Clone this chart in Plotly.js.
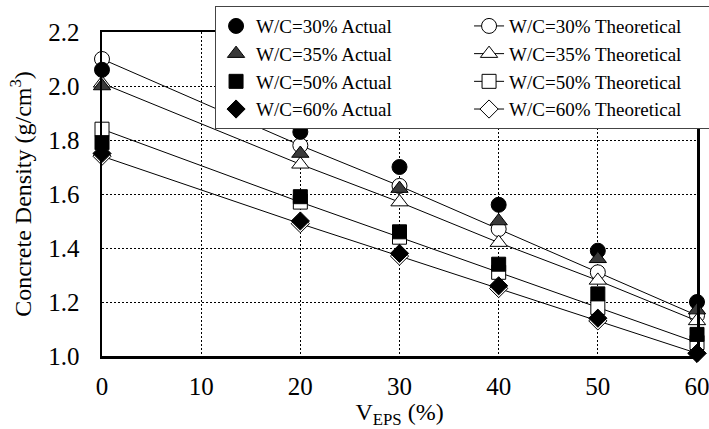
<!DOCTYPE html>
<html>
<head>
<meta charset="utf-8">
<script src="https://cdn.plot.ly/plotly-3.0.1.min.js"></script>
<style>html,body{margin:0;padding:0;background:#fff}#chart{width:709px;height:429px}</style>
</head>
<body>
<div id="chart"></div>
<script>
// EPS volume fraction (%)
const vEps = [0, 20, 30, 40, 50, 60];

// Measured (actual) densities, g/cm3
const actual30 = [2.06, 1.83, 1.70, 1.56, 1.39, 1.20];
const actual35 = [2.00, 1.75, 1.62, 1.50, 1.36, 1.17];
const actual50 = [1.79, 1.59, 1.46, 1.34, 1.23, 1.08];
const actual60 = [1.75, 1.50, 1.38, 1.26, 1.14, 1.01];

// Theoretical densities, g/cm3
const theo30 = [2.10, 1.78, 1.63, 1.47, 1.31, 1.15];
const theo35 = [2.01, 1.71, 1.57, 1.42, 1.28, 1.13];
const theo50 = [1.84, 1.57, 1.44, 1.31, 1.18, 1.05];
const theo60 = [1.74, 1.49, 1.37, 1.25, 1.13, 1.01];

const wcLabels = ['W/C=30%', 'W/C=35%', 'W/C=50%', 'W/C=60%'];
const symbols = ['circle', 'triangle-up', 'square', 'diamond'];
const sizes = [15, 15, 14, 14];
const actualColors = ['#000000', '#3a3a3a', '#000000', '#000000'];
const actualSets = [actual30, actual35, actual50, actual60];
const theoSets = [theo30, theo35, theo50, theo60];

const FONT = 'Liberation Serif';
const traces = [];
theoSets.forEach((ys, i) => {
  traces.push({
    x: vEps, y: ys, type: 'scatter', mode: 'lines+markers',
    name: wcLabels[i] + ' Theoretical', legendrank: 2 * i + 2,
    line: {color: '#000', width: 1},
    marker: {symbol: symbols[i], size: sizes[i], color: '#fff', line: {color: '#000', width: 1}},
    cliponaxis: false
  });
});
actualSets.forEach((ys, i) => {
  traces.push({
    x: vEps, y: ys, type: 'scatter', mode: 'markers',
    name: wcLabels[i] + ' Actual', legendrank: 2 * i + 1,
    marker: {symbol: symbols[i], size: sizes[i], color: actualColors[i], line: {color: '#000', width: 1}},
    cliponaxis: false
  });
});

const layout = {
  width: 709, height: 429,
  margin: {l: 102, r: 12, t: 32, b: 73, autoexpand: false},
  paper_bgcolor: '#fff', plot_bgcolor: '#fff',
  font: {family: FONT, color: '#000', size: 25},
  showlegend: true,
  legend: {
    orientation: 'h', x: 0.19, xanchor: 'left', y: 1.08, yanchor: 'top',
    entrywidth: 208, itemwidth: 30, traceorder: 'normal',
    font: {family: FONT, size: 19, color: '#000'},
    bgcolor: '#fff', bordercolor: '#444', borderwidth: 1
  },
  xaxis: {
    range: [0, 60], tickvals: [0, 10, 20, 30, 40, 50, 60], ticks: '',
    showline: true, linecolor: '#000', linewidth: 2.5, mirror: true,
    showgrid: true, gridcolor: '#000', gridwidth: 1, griddash: '2px,2px',
    zeroline: false, ticklabelstandoff: 6, ticklabeloverflow: 'allow',
    tickfont: {family: FONT, size: 25},
    title: {text: 'V<sub>EPS</sub> (%)', font: {family: FONT, size: 24}, standoff: 6}
  },
  yaxis: {
    range: [1.0, 2.2], tickvals: [1.0, 1.2, 1.4, 1.6, 1.8, 2.0, 2.2], tickformat: '.1f', ticks: '',
    showline: true, linecolor: '#000', linewidth: 2.5, mirror: true,
    showgrid: true, gridcolor: '#000', gridwidth: 1, griddash: '2px,2px',
    zeroline: false, ticklabelstandoff: 15, ticklabeloverflow: 'allow',
    tickfont: {family: FONT, size: 25},
    title: {text: 'Concrete Density (g/cm<sup>3</sup>)', font: {family: FONT, size: 24}, standoff: 10}
  }
};

Plotly.newPlot('chart', traces, layout, {displayModeBar: false, staticPlot: true});
</script>
</body>
</html>
